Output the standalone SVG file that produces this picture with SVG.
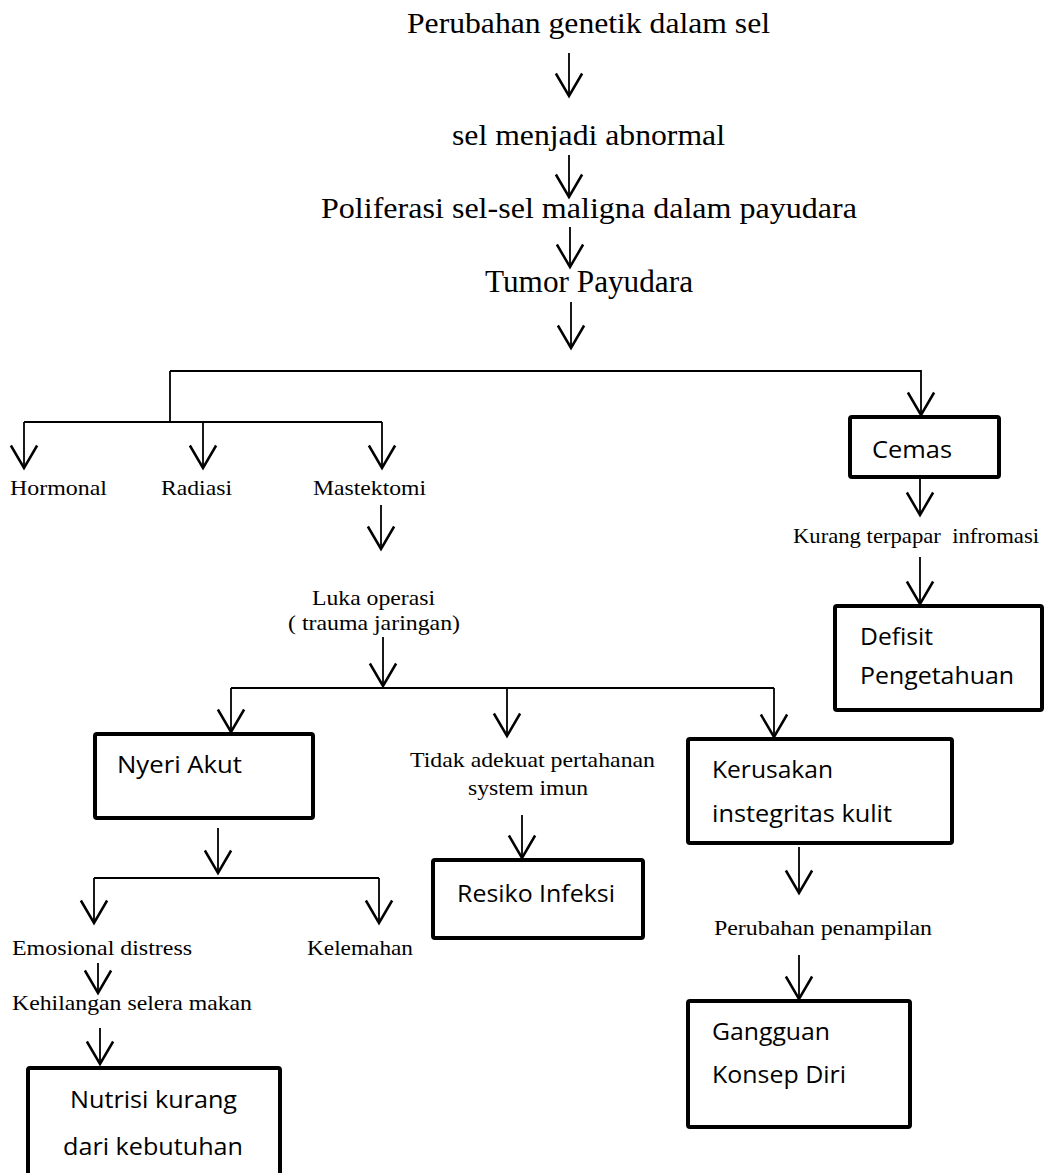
<svg xmlns="http://www.w3.org/2000/svg" width="1051" height="1173" viewBox="0 0 1051 1173">
<style>
.serif{font-family:"Liberation Serif","Times New Roman",serif;fill:#000}
.big{font-size:29px}
.sm{font-size:21px}
.bx{font-family:"Open Sans","Noto Sans",sans-serif;font-size:24px;fill:#000}
rect.box{fill:#fff;stroke:#000;stroke-width:4;stroke-linejoin:round}
.conn line,.conn polyline{stroke:#000;stroke-width:1.8;fill:none}
.arr{marker-end:url(#ah)}
</style>
<defs>
<marker id="ah" markerUnits="userSpaceOnUse" markerWidth="30" markerHeight="30" viewBox="-20 -12 22 24" refX="0" refY="0" orient="auto" overflow="visible">
<path d="M-18,-10.5 L0,0 L-18,10.5" fill="none" stroke="#000" stroke-width="2"/>
</marker>
</defs>
<rect width="1051" height="1173" fill="#fff"/>

<g class="conn" id="connectors">
<line class="arr" x1="569" y1="53" x2="569" y2="96"/>
<line class="arr" x1="569" y1="155" x2="569" y2="197"/>
<line class="arr" x1="570" y1="227" x2="570" y2="267"/>
<line class="arr" x1="571" y1="302" x2="571" y2="348"/>
<polyline class="arr" points="170,371 921,371 921,415"/>
<line x1="170" y1="371" x2="170" y2="422"/>
<line x1="24" y1="422" x2="382" y2="422"/>
<line class="arr" x1="24" y1="422" x2="24" y2="468"/>
<line class="arr" x1="203" y1="422" x2="203" y2="468"/>
<line class="arr" x1="382" y1="422" x2="382" y2="468"/>
<line class="arr" x1="920" y1="477" x2="920" y2="515"/>
<line class="arr" x1="920" y1="557" x2="920" y2="604"/>
<line class="arr" x1="381" y1="505" x2="381" y2="549"/>
<line class="arr" x1="383" y1="637" x2="383" y2="686"/>
<line x1="231" y1="688" x2="774" y2="688"/>
<line class="arr" x1="231" y1="688" x2="231" y2="732"/>
<line class="arr" x1="507" y1="688" x2="507" y2="736"/>
<line class="arr" x1="774" y1="688" x2="774" y2="737"/>
<line class="arr" x1="522" y1="815" x2="522" y2="858"/>
<line class="arr" x1="218" y1="828" x2="218" y2="873"/>
<line x1="94" y1="878" x2="379" y2="878"/>
<line class="arr" x1="94" y1="878" x2="94" y2="923"/>
<line class="arr" x1="379" y1="878" x2="379" y2="923"/>
<line class="arr" x1="98" y1="963" x2="98" y2="993"/>
<line class="arr" x1="100" y1="1028" x2="100" y2="1064"/>
<line class="arr" x1="799" y1="847" x2="799" y2="893"/>
<line class="arr" x1="799" y1="955" x2="799" y2="999"/>
</g>

<g id="n-perubahan"><text class="serif big" x="407" y="33" textLength="363" lengthAdjust="spacingAndGlyphs">Perubahan genetik dalam sel</text></g>
<g id="n-abnormal"><text class="serif big" x="452" y="145" textLength="273" lengthAdjust="spacingAndGlyphs">sel menjadi abnormal</text></g>
<g id="n-poliferasi"><text class="serif big" x="321" y="218" textLength="536" lengthAdjust="spacingAndGlyphs">Poliferasi sel-sel maligna dalam payudara</text></g>
<g id="n-tumor"><text class="serif" font-size="32" x="485" y="292" textLength="208" lengthAdjust="spacingAndGlyphs">Tumor Payudara</text></g>

<g id="n-hormonal"><text class="serif sm" x="10" y="495" textLength="97" lengthAdjust="spacingAndGlyphs">Hormonal</text></g>
<g id="n-radiasi"><text class="serif sm" x="161" y="495" textLength="71" lengthAdjust="spacingAndGlyphs">Radiasi</text></g>
<g id="n-mastektomi"><text class="serif sm" x="313" y="495" textLength="113" lengthAdjust="spacingAndGlyphs">Mastektomi</text></g>
<g id="n-luka">
<text class="serif sm" x="312" y="605" textLength="123" lengthAdjust="spacingAndGlyphs">Luka operasi</text>
<text class="serif sm" x="288" y="630" textLength="172" lengthAdjust="spacingAndGlyphs">( trauma jaringan)</text>
</g>

<g id="n-cemas"><rect class="box" x="850" y="417" width="149" height="60" rx="2"/><text class="bx" x="872" y="458" textLength="80" lengthAdjust="spacingAndGlyphs">Cemas</text></g>
<g id="n-kurang"><text class="serif sm" x="793" y="543" textLength="246" lengthAdjust="spacingAndGlyphs" xml:space="preserve">Kurang terpapar  infromasi</text></g>
<g id="n-defisit"><rect class="box" x="835" y="606" width="207" height="104" rx="2"/>
<text class="bx" x="860" y="645" textLength="73" lengthAdjust="spacingAndGlyphs">Defisit</text>
<text class="bx" x="860" y="684" textLength="154" lengthAdjust="spacingAndGlyphs">Pengetahuan</text></g>

<g id="n-nyeri"><rect class="box" x="95" y="734" width="218" height="84" rx="2"/><text class="bx" x="117" y="773" textLength="125" lengthAdjust="spacingAndGlyphs">Nyeri Akut</text></g>
<g id="n-tidak">
<text class="serif sm" x="410" y="767" textLength="245" lengthAdjust="spacingAndGlyphs">Tidak adekuat pertahanan</text>
<text class="serif sm" x="468" y="795" textLength="120" lengthAdjust="spacingAndGlyphs">system imun</text>
</g>
<g id="n-kerusakan"><rect class="box" x="688" y="739" width="264" height="104" rx="2"/>
<text class="bx" x="712" y="778" textLength="121" lengthAdjust="spacingAndGlyphs">Kerusakan</text>
<text class="bx" x="712" y="822" textLength="180" lengthAdjust="spacingAndGlyphs">instegritas kulit</text></g>
<g id="n-resiko"><rect class="box" x="433" y="860" width="210" height="78" rx="2"/><text class="bx" x="457" y="902" textLength="158" lengthAdjust="spacingAndGlyphs">Resiko Infeksi</text></g>

<g id="n-emosional"><text class="serif sm" x="12" y="955" textLength="180" lengthAdjust="spacingAndGlyphs">Emosional distress</text></g>
<g id="n-kelemahan"><text class="serif sm" x="307" y="955" textLength="106" lengthAdjust="spacingAndGlyphs">Kelemahan</text></g>
<g id="n-kehilangan"><text class="serif sm" x="12" y="1010" textLength="240" lengthAdjust="spacingAndGlyphs">Kehilangan selera makan</text></g>
<g id="n-nutrisi"><rect class="box" x="28" y="1068" width="252" height="120" rx="2"/>
<text class="bx" x="70" y="1108" textLength="167" lengthAdjust="spacingAndGlyphs">Nutrisi kurang</text>
<text class="bx" x="63" y="1155" textLength="180" lengthAdjust="spacingAndGlyphs">dari kebutuhan</text></g>

<g id="n-penampilan"><text class="serif sm" x="714" y="935" textLength="218" lengthAdjust="spacingAndGlyphs">Perubahan penampilan</text></g>
<g id="n-gangguan"><rect class="box" x="688" y="1001" width="222" height="126" rx="2"/>
<text class="bx" x="712" y="1040" textLength="118" lengthAdjust="spacingAndGlyphs">Gangguan</text>
<text class="bx" x="712" y="1083" textLength="134" lengthAdjust="spacingAndGlyphs">Konsep Diri</text></g>
</svg>
